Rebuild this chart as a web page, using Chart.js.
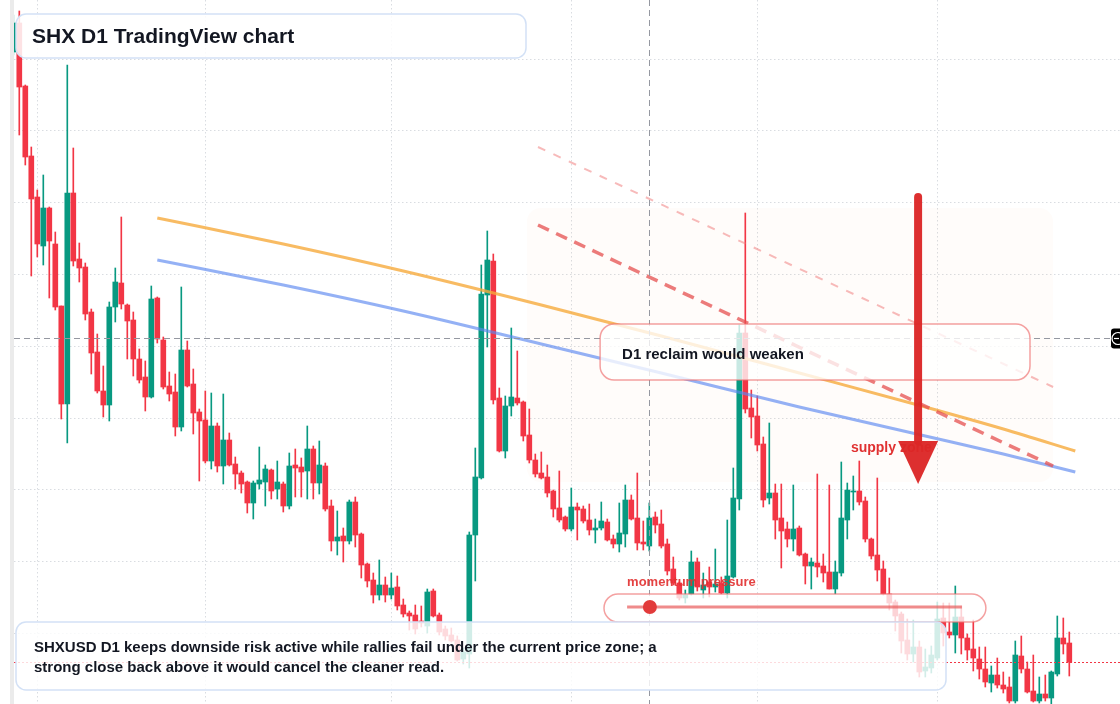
<!DOCTYPE html>
<html>
<head>
<meta charset="utf-8">
<script src="https://cdn.jsdelivr.net/npm/chart.js@4.4.1/dist/chart.umd.min.js"></script>
<style>
  html, body { margin: 0; padding: 0; background: #fff; overflow: hidden; }
  canvas { display: block; }
</style>
</head>
<body>
<canvas id="chart" width="1120" height="704"></canvas>
<script>
// Свечи SHXUSD D1 (значения в условных пунктах, индекс 0 = 29 янв.)
const firstIndex = -1;
const opens = [652,
  681, 618, 548, 507, 458, 496, 460, 398, 300, 511,
  445, 437, 392, 352, 313, 299, 397, 421, 399, 384,
  345, 327, 307, 406, 364, 318, 312, 277, 354, 320,
  292, 284, 243, 278, 238, 264, 240, 231, 222, 201,
  220, 222, 234, 215, 220, 198, 239, 237, 233, 255,
  221, 238, 198, 163, 168, 163, 202, 170, 140, 124,
  109, 119, 109, 117, 99, 91, 89, 83, 78, 113,
  89, 75, 69, 64, 45, 50, 169, 226, 409, 443,
  306, 253, 298, 306, 302, 269, 244, 231, 227, 213,
  196, 187, 175, 197, 195, 184, 174, 176, 182, 165,
  160, 170, 204, 186, 162, 158, 187, 180, 160, 135,
  121, 106, 110, 142, 114, 122, 117, 121, 111, 127,
  205, 371, 296, 288, 260, 206, 211, 186, 175, 165,
  176, 150, 138, 141, 138, 132, 115, 131, 184, 212,
  213, 203, 165, 149, 135, 110, 102, 90, 64, 50,
  57, 33, 36, 46, 86, 72, 69, 87, 66, 55,
  45, 35, 21, 29, 19, 17, 3, 48, 35, 13,
  3, 10, 6, 30, 66, 61];
const highs = [689,
  693, 619, 557, 514, 529, 497, 472, 398, 639, 556,
  461, 441, 395, 370, 338, 402, 436, 487, 400, 392,
  355, 343, 418, 407, 367, 332, 330, 417, 363, 335,
  295, 313, 311, 281, 310, 271, 247, 233, 223, 223,
  257, 239, 235, 243, 222, 251, 255, 246, 278, 258,
  263, 241, 204, 193, 176, 204, 207, 171, 141, 131,
  144, 127, 131, 128, 105, 93, 99, 98, 115, 115,
  91, 78, 76, 68, 56, 172, 256, 439, 473, 450,
  316, 308, 376, 353, 303, 295, 250, 252, 239, 214,
  233, 188, 216, 201, 198, 200, 185, 202, 185, 169,
  201, 219, 209, 231, 183, 201, 192, 194, 165, 147,
  122, 114, 153, 146, 131, 137, 155, 127, 184, 236,
  379, 491, 314, 308, 267, 281, 220, 220, 182, 219,
  178, 151, 146, 230, 150, 219, 143, 242, 221, 228,
  243, 207, 166, 226, 143, 126, 104, 92, 85, 84,
  63, 55, 58, 102, 101, 101, 118, 98, 70, 84,
  57, 57, 38, 46, 32, 27, 63, 68, 42, 49,
  27, 29, 33, 88, 86, 72];
const lows = [649,
  569, 539, 428, 447, 439, 406, 394, 285, 261, 438,
  422, 384, 330, 311, 287, 283, 382, 395, 345, 328,
  321, 293, 306, 361, 315, 303, 268, 273, 317, 270,
  223, 241, 235, 232, 220, 238, 215, 211, 191, 185,
  215, 198, 205, 205, 192, 195, 207, 207, 205, 205,
  210, 193, 153, 149, 142, 160, 157, 126, 117, 101,
  104, 102, 105, 94, 87, 74, 70, 77, 71, 87,
  69, 64, 62, 43, 40, 36, 123, 225, 357, 300,
  252, 246, 288, 299, 263, 241, 227, 225, 207, 187,
  182, 173, 173, 164, 181, 169, 161, 174, 163, 156,
  152, 157, 184, 154, 154, 153, 171, 156, 129, 119,
  104, 101, 109, 113, 106, 107, 112, 110, 106, 126,
  194, 291, 266, 253, 197, 200, 165, 136, 157, 153,
  148, 120, 115, 127, 122, 115, 110, 128, 165, 194,
  199, 162, 145, 123, 109, 94, 73, 51, 44, 42,
  27, 27, 31, 44, 58, 66, 51, 50, 44, 33,
  25, 17, 12, 16, 11, 1, 1, 31, 11, 2,
  1, 3, 0, 28, 50, 28];
const closes = [681,
  617, 547, 505, 460, 496, 463, 397, 300, 511, 443,
  436, 390, 351, 313, 299, 397, 422, 400, 383, 345,
  324, 307, 405, 365, 317, 310, 277, 354, 318, 291,
  283, 243, 278, 238, 264, 239, 230, 220, 201, 221,
  224, 235, 213, 222, 198, 238, 236, 232, 255, 221,
  239, 195, 163, 167, 163, 202, 169, 139, 123, 109,
  119, 109, 116, 98, 90, 88, 75, 81, 112, 88,
  72, 68, 63, 44, 52, 169, 227, 410, 444, 304,
  253, 298, 307, 301, 268, 244, 230, 226, 211, 195,
  184, 175, 197, 194, 183, 174, 176, 183, 164, 160,
  171, 204, 185, 161, 160, 186, 179, 158, 133, 121,
  106, 109, 142, 117, 119, 117, 120, 111, 128, 206,
  371, 295, 287, 259, 204, 211, 184, 173, 165, 175,
  149, 138, 142, 137, 131, 115, 132, 186, 214, 213,
  202, 165, 148, 134, 110, 101, 88, 63, 50, 57,
  32, 37, 49, 85, 71, 69, 87, 66, 54, 46,
  35, 22, 29, 19, 15, 3, 49, 35, 12, 3,
  10, 6, 32, 66, 60, 42];

// Скользящие средние (опорные точки)
const maSlowIdx = [23, 44, 64, 87, 107, 130, 151, 164, 176];
const maSlowVal = [486, 460, 433, 399, 368, 331, 297, 275, 253];
const maFastIdx = [23, 44, 64, 87, 107, 130, 151, 164, 176];
const maFastVal = [444, 419, 393, 360, 331, 297, 268, 250, 232];

// Сетка: начала месяцев и уровни цены
const monthStarts = [3, 31, 62, 92, 123, 153];
const priceLevels = [71, 143, 214.5, 286, 358, 430, 501.5, 573, 645];

// Разметка
const crossIndex = 105;
const crossValue = 366;
const zone = { i0: 84.6, i1: 172.3, top: 496, bottom: 222 };
const trendBold = { i0: 86.45, v0: 479, i1: 172.3, v1: 238 };
const trendLight = { i0: 86.45, v0: 557, i1: 172.3, v1: 317 };
const arrow = { i: 149.8, top: 507, base: 263, tip: 220, half: 3.33 };
const reclaimBox = { i0: 96.8, i1: 168.45, top: 380, bottom: 324 };
const pill = { i0: 97.45, i1: 161.1, top: 110, bottom: 82, line0: 101.3, line1: 157.1, lineV: 97, dot: 105.1, labelV: 122 };
const supplyLabel = { i: 138.6, v: 256 };

const UP = "#089981";
const DOWN = "#f23645";
const FONT = '"Liberation Sans", Arial, sans-serif';

const idx = opens.map((_, k) => firstIndex + k);
const colors = opens.map((o, k) => (closes[k] >= o ? UP : DOWN));

function rr(ctx, x, y, w, h, r) {
  ctx.beginPath();
  ctx.roundRect(x, y, w, h, r);
}

const overlay = {
  id: "overlay",
  beforeDatasetsDraw(chart) {
    const { ctx } = chart;
    const sx = chart.scales.x, sy = chart.scales.y;
    ctx.save();
    ctx.fillStyle = "#ebebeb";
    ctx.fillRect(10, 0, 4, chart.height);
    const x0 = sx.getPixelForValue(zone.i0), x1 = sx.getPixelForValue(zone.i1);
    const y0 = sy.getPixelForValue(zone.top), y1 = sy.getPixelForValue(zone.bottom);
    ctx.fillStyle = "rgba(240,150,110,0.03)";
    rr(ctx, x0, y0, x1 - x0, y1 - y0, 14);
    ctx.fill();
    ctx.restore();
  },
  afterDatasetsDraw(chart) {
    const { ctx, chartArea } = chart;
    const sx = chart.scales.x, sy = chart.scales.y;
    const X = (i) => sx.getPixelForValue(i);
    const Y = (v) => sy.getPixelForValue(v);
    ctx.save();

    // трендовые пунктиры
    ctx.lineCap = "butt";
    ctx.strokeStyle = "rgba(240,130,130,0.55)";
    ctx.lineWidth = 2;
    ctx.setLineDash([8, 9]);
    ctx.beginPath();
    ctx.moveTo(X(trendLight.i0), Y(trendLight.v0));
    ctx.lineTo(X(trendLight.i1), Y(trendLight.v1));
    ctx.stroke();
    ctx.strokeStyle = "rgba(230,80,80,0.75)";
    ctx.lineWidth = 3.5;
    ctx.setLineDash([12, 8]);
    ctx.beginPath();
    ctx.moveTo(X(trendBold.i0), Y(trendBold.v0));
    ctx.lineTo(X(trendBold.i1), Y(trendBold.v1));
    ctx.stroke();

    // перекрестие
    ctx.strokeStyle = "#9598a1";
    ctx.lineWidth = 1;
    ctx.setLineDash([6, 4]);
    const cx = Math.round(X(crossIndex)) + 0.5;
    ctx.beginPath();
    ctx.moveTo(cx, 0);
    ctx.lineTo(cx, chart.height);
    ctx.stroke();
    const cy = Math.round(Y(crossValue)) + 0.5;
    ctx.beginPath();
    ctx.moveTo(chartArea.left, cy);
    ctx.lineTo(1111, cy);
    ctx.stroke();

    // линия последней цены
    const ly = Math.round(Y(closes[closes.length - 1])) + 0.5;
    ctx.strokeStyle = DOWN;
    ctx.setLineDash([2, 2]);
    ctx.beginPath();
    ctx.moveTo(chartArea.left, ly);
    ctx.lineTo(chartArea.right, ly);
    ctx.stroke();
    ctx.setLineDash([]);

    // плашки
    ctx.lineWidth = 1.5;
    ctx.fillStyle = "rgba(255,255,255,0.86)";
    ctx.strokeStyle = "#d3e1f6";
    rr(ctx, 16, 14, 510, 44, 10);
    ctx.fill();
    ctx.stroke();

    ctx.fillStyle = "rgba(255,255,255,0.78)";
    ctx.strokeStyle = "rgba(238,110,110,0.65)";
    let bx0 = X(reclaimBox.i0), bx1 = X(reclaimBox.i1);
    let by0 = Y(reclaimBox.top), by1 = Y(reclaimBox.bottom);
    rr(ctx, bx0, by0, bx1 - bx0, by1 - by0, 14);
    ctx.fill();
    ctx.stroke();

    bx0 = X(pill.i0); bx1 = X(pill.i1);
    by0 = Y(pill.top); by1 = Y(pill.bottom);
    rr(ctx, bx0, by0, bx1 - bx0, by1 - by0, 14);
    ctx.fill();
    ctx.stroke();

    ctx.fillStyle = "rgba(255,255,255,0.82)";
    ctx.strokeStyle = "#d3e1f6";
    rr(ctx, 16, 622, 930, 68, 10);
    ctx.fill();
    ctx.stroke();

    // шкала импульса
    ctx.strokeStyle = "rgba(232,90,90,0.7)";
    ctx.lineWidth = 3;
    ctx.beginPath();
    ctx.moveTo(X(pill.line0), Y(pill.lineV));
    ctx.lineTo(X(pill.line1), Y(pill.lineV));
    ctx.stroke();
    ctx.fillStyle = "#e23b3b";
    ctx.beginPath();
    ctx.arc(X(pill.dot), Y(pill.lineV), 7, 0, Math.PI * 2);
    ctx.fill();
    ctx.font = "bold 13px " + FONT;
    ctx.textBaseline = "middle";
    ctx.fillStyle = "rgba(226,50,50,0.92)";
    ctx.fillText("momentum pressure", X(pill.line0), Y(pill.labelV));

    // подпись зоны и стрелка
    ctx.font = "bold 14px " + FONT;
    ctx.fillStyle = "#e03131";
    ctx.fillText("supply zone", X(supplyLabel.i), Y(supplyLabel.v));
    const ax = X(arrow.i);
    const hw = X(arrow.i + arrow.half) - ax;
    ctx.strokeStyle = "rgba(220,38,38,0.96)";
    ctx.fillStyle = "rgba(220,38,38,0.96)";
    ctx.lineWidth = 8;
    ctx.lineCap = "round";
    ctx.beginPath();
    ctx.moveTo(ax, Y(arrow.top));
    ctx.lineTo(ax, Y(arrow.base));
    ctx.stroke();
    ctx.beginPath();
    ctx.moveTo(ax - hw, Y(arrow.base));
    ctx.lineTo(ax + hw, Y(arrow.base));
    ctx.lineTo(ax, Y(arrow.tip));
    ctx.closePath();
    ctx.fill();

    // тексты
    ctx.fillStyle = "#131722";
    ctx.font = "bold 21px " + FONT;
    ctx.fillText("SHX D1 TradingView chart", 32, 37);
    ctx.font = "bold 15px " + FONT;
    const midV = (reclaimBox.top + reclaimBox.bottom) / 2;
    ctx.fillText("D1 reclaim would weaken", X(reclaimBox.i0) + 22, Y(midV) + 3);
    ctx.fillText("SHXUSD D1 keeps downside risk active while rallies fail under the current price zone; a", 34, 648);
    ctx.fillText("strong close back above it would cancel the cleaner read.", 34, 668);

    // метка цены справа
    ctx.fillStyle = "#000";
    rr(ctx, 1111, cy - 10, 16, 20, 3);
    ctx.fill();
    ctx.strokeStyle = "#fff";
    ctx.lineWidth = 1.2;
    ctx.lineCap = "butt";
    ctx.beginPath();
    ctx.arc(1118, cy, 6, 0, Math.PI * 2);
    ctx.stroke();
    ctx.beginPath();
    ctx.moveTo(1114, cy);
    ctx.lineTo(1119, cy);
    ctx.stroke();

    ctx.restore();
  },
};

const ctx = document.getElementById("chart").getContext("2d");
new Chart(ctx, {
  type: "bar",
  data: {
    datasets: [
      {
        type: "line",
        label: "MA slow",
        data: maSlowIdx.map((x, k) => ({ x, y: maSlowVal[k] })),
        borderColor: "rgba(246,170,60,0.8)",
        borderWidth: 3,
        pointRadius: 0,
        cubicInterpolationMode: "monotone",
        order: 0,
      },
      {
        type: "line",
        label: "MA fast",
        data: maFastIdx.map((x, k) => ({ x, y: maFastVal[k] })),
        borderColor: "rgba(90,135,240,0.65)",
        borderWidth: 3,
        pointRadius: 0,
        cubicInterpolationMode: "monotone",
        order: 0,
      },
      {
        label: "wicks",
        data: idx.map((x, k) => ({ x, y: [lows[k], highs[k]] })),
        backgroundColor: colors,
        barThickness: 1,
        grouped: false,
        order: 2,
      },
      {
        label: "bodies",
        data: idx.map((x, k) => ({ x, y: [opens[k], closes[k]] })),
        backgroundColor: colors,
        barThickness: 5,
        minBarLength: 1,
        grouped: false,
        order: 1,
      },
    ],
  },
  options: {
    responsive: false,
    animation: false,
    devicePixelRatio: 1,
    layout: { autoPadding: false, padding: { left: 14, right: 0, top: 0, bottom: 0 } },
    plugins: { legend: { display: false }, tooltip: { enabled: false } },
    scales: {
      x: {
        type: "linear",
        min: -0.883,
        max: 183.45,
        offset: false,
        ticks: { display: false },
        grid: { color: "#d9dce1", drawTicks: false, offset: false },
        border: { display: false, dash: [1.5, 2.5] },
        afterBuildTicks: (s) => { s.ticks = monthStarts.map((v) => ({ value: v })); },
        afterFit: (s) => { s.height = 0; },
      },
      y: {
        min: 0,
        max: 704,
        ticks: { display: false },
        grid: { color: "#d9dce1", drawTicks: false },
        border: { display: false, dash: [1.5, 2.5] },
        afterBuildTicks: (s) => { s.ticks = priceLevels.map((v) => ({ value: v })); },
        afterFit: (s) => { s.width = 0; },
      },
    },
  },
  plugins: [overlay],
});
</script>
</body>
</html>
